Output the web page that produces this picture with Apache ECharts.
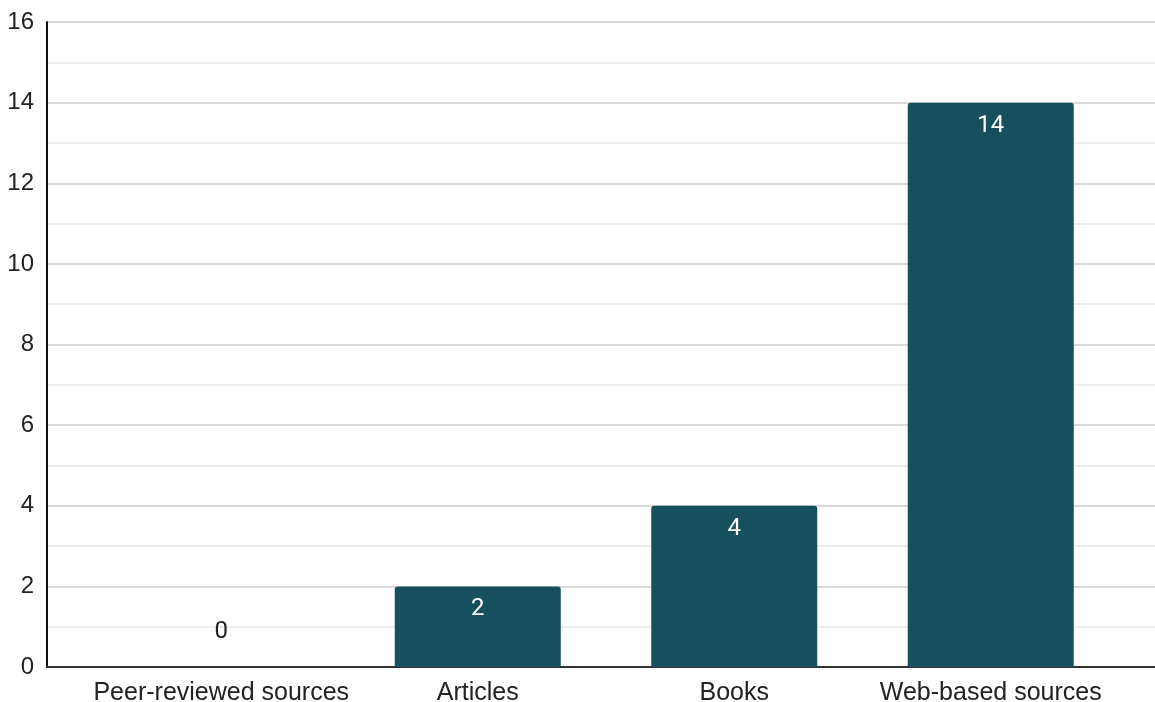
<!DOCTYPE html>
<html>
<head>
<meta charset="utf-8">
<script src="https://cdn.jsdelivr.net/npm/echarts@6/dist/echarts.min.js"></script>
<style>
html,body{margin:0;padding:0;background:#fff;}
#chart{width:1155px;height:702px;}
</style>
</head>
<body>
<div id="chart"></div>
<script>
const categories = ["Peer-reviewed sources", "Articles", "Books", "Web-based sources"];
const counts = [0, 2, 4, 14];
const yMin = 0, yMax = 16, yStep = 2;

const chart = echarts.init(document.getElementById('chart'), null, {renderer: 'canvas'});
const barData = counts.map(v => v === 0
  ? {value: v, label: {position: 'top', distance: 23, color: '#222222'}}
  : {value: v});

chart.setOption({
  animation: false,
  backgroundColor: '#ffffff',
  grid: [
    {left: 47, right: 0, top: 22, bottom: 35, containLabel: false, outerBoundsMode: 'none'},
    {left: 93, right: 36, top: 22, bottom: 35, containLabel: false, outerBoundsMode: 'none'}
  ],
  xAxis: [
    {type: 'value', gridIndex: 0, min: 0, max: 1, show: true,
     axisLine: {show: true, onZero: false, lineStyle: {color: '#333333', width: 2}},
     axisTick: {show: false}, axisLabel: {show: false}, splitLine: {show: false}, position: 'bottom'},
    {type: 'category', gridIndex: 1, data: categories, boundaryGap: true,
     axisLine: {show: false}, axisTick: {show: false},
     axisLabel: {color: '#222222', fontSize: 25, fontFamily: 'Liberation Sans, Arial, sans-serif', margin: 14, interval: 0}}
  ],
  yAxis: [
    {type: 'value', gridIndex: 0, min: yMin, max: yMax, interval: yStep,
     axisLine: {show: true, lineStyle: {color: '#111111', width: 2}},
     axisTick: {show: false},
     axisLabel: {color: '#222222', fontSize: 24, fontFamily: 'Liberation Sans, Arial, sans-serif', margin: 13},
     splitLine: {show: true, lineStyle: {color: '#cccccc', width: 1.5}},
     minorTick: {show: false, splitNumber: 2},
     minorSplitLine: {show: true, lineStyle: {color: '#e8e8e8', width: 1.5}}},
    {type: 'value', gridIndex: 1, min: yMin, max: yMax, interval: yStep, show: false,
     splitLine: {show: false}}
  ],
  series: [{
    type: 'bar',
    xAxisIndex: 1, yAxisIndex: 1,
    data: barData,
    barWidth: 166,
    itemStyle: {color: '#164f5d', borderRadius: [3, 3, 0, 0]},
    label: {show: true, position: 'insideTop', distance: 11, color: '#ffffff',
      fontSize: 24, fontFamily: 'Roboto, sans-serif'}
  }]
});
</script>
</body>
</html>
